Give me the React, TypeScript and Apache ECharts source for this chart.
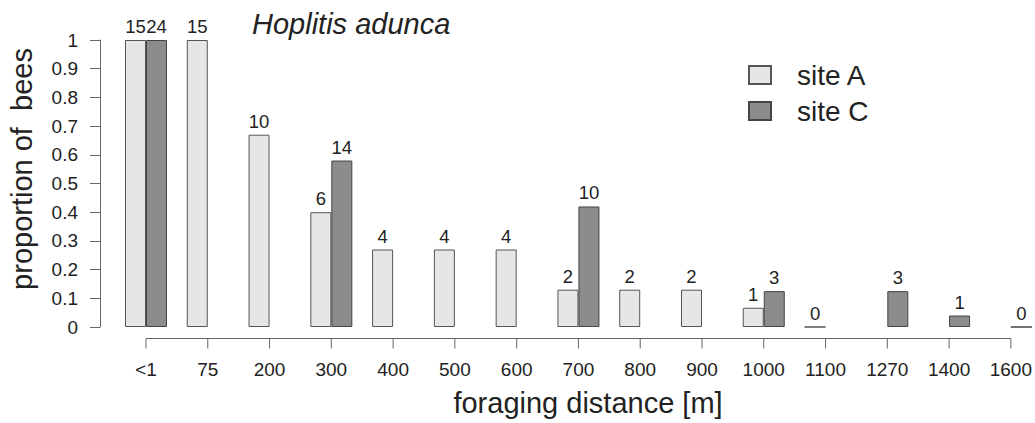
import React, { useEffect, useRef } from "react";
import * as echarts from "echarts";

const categories = ["<1", "75", "200", "300", "400", "500", "600", "700", "800", "900", "1000", "1100", "1270", "1400", "1600"];
const siteAValues = [1, 1, 0.67, 0.4, 0.27, 0.27, 0.27, 0.13, 0.13, 0.13, 0.067, 0, null, null, null];
const siteCValues = [1, null, null, 0.58, null, null, null, 0.42, null, null, 0.125, null, 0.125, 0.04, 0];
const siteACounts = [15, 15, 10, 6, 4, 4, 4, 2, 2, 2, 1, 0, null, null, null];
const siteCCounts = [24, null, null, 14, null, null, null, 10, null, null, 3, null, 3, 1, 0];

const FONT = "'Liberation Sans', Arial, Helvetica, sans-serif";
const TEXT = "#222";
const AXIS = "#666";

export default function App() {
  const ref = useRef<HTMLDivElement>(null);
  useEffect(() => {
    if (!ref.current) return;
    const chart = echarts.init(ref.current, null, { renderer: "svg" });
    const mk = (vals: (number | null)[], counts: (number | null)[]) =>
      vals.map((v, i) => (v === null ? "-" : { value: v, count: counts[i] }));
    const labelOpt = {
      show: true,
      position: "top",
      distance: 4,
      fontFamily: FONT,
      fontSize: 18.5,
      color: TEXT,
      formatter: (p: any) => (p.data && p.data.count !== null && p.data.count !== undefined ? String(p.data.count) : ""),
    };
    const lastIdx = categories.length - 1;
    chart.setOption({
      animation: false,
      backgroundColor: "#fff",
      textStyle: { fontFamily: FONT },
      title: {
        text: "Hoplitis adunca",
        left: 252,
        top: 9,
        padding: 0,
        textStyle: { fontFamily: FONT, fontSize: 29, fontStyle: "italic", fontWeight: "normal", color: TEXT, lineHeight: 29 },
      },
      legend: {
        orient: "vertical",
        left: 748,
        top: 60,
        padding: 0,
        itemWidth: 22,
        itemHeight: 18,
        itemGap: 6,
        icon: "rect",
        textStyle: { fontFamily: FONT, fontSize: 28, color: TEXT, lineHeight: 30, padding: [0, 0, 0, 21] },
        data: ["site A", "site C"],
      },
      grid: { left: 146, right: 23, top: 40, bottom: 96 },
      xAxis: {
        type: "category",
        data: categories,
        boundaryGap: false,
        offset: 11,
        axisLine: { show: false, onZero: false },
        axisTick: { show: false },
        axisLabel: { interval: 0, margin: 22, fontFamily: FONT, fontSize: 19, color: TEXT },
        splitLine: { show: false },
      },
      yAxis: {
        type: "value",
        min: 0,
        max: 1,
        interval: 0.1,
        offset: 46,
        axisLine: { show: true, lineStyle: { color: AXIS, width: 1 } },
        axisTick: { show: true, length: 10, lineStyle: { color: AXIS } },
        axisLabel: { margin: 22, fontFamily: FONT, fontSize: 19, color: TEXT },
        splitLine: { show: false },
      },
      graphic: [
        {
          type: "text",
          x: 22,
          y: 169,
          rotation: Math.PI / 2,
          style: { text: "proportion of  bees", fontFamily: FONT, fontSize: 29, fill: TEXT, align: "center", verticalAlign: "middle" },
        },
        {
          type: "text",
          x: 588,
          y: 403,
          style: { text: "foraging distance [m]", fontFamily: FONT, fontSize: 29, fill: TEXT, align: "center", verticalAlign: "middle" },
        },
      ],
      series: [
        {
          name: "site A",
          type: "bar",
          data: mk(siteAValues, siteACounts),
          barWidth: 21,
          barGap: "0%",
          clip: false,
          itemStyle: { color: "#e6e6e6", borderColor: "#555", borderWidth: 1 },
          label: labelOpt,
        },
        {
          name: "site C",
          type: "bar",
          data: mk(siteCValues, siteCCounts),
          barWidth: 21,
          barGap: "0%",
          clip: false,
          itemStyle: { color: "#8c8c8c", borderColor: "#444", borderWidth: 1 },
          label: labelOpt,
        },
        {
          name: "x axis",
          type: "custom",
          silent: true,
          clip: false,
          data: categories.map((_, i) => [i, 0]),
          encode: { x: 0, y: 1 },
          renderItem: (params: any, api: any) => {
            const p = api.coord([api.value(0), 0]);
            const y = Math.round(p[1]) + 11.5;
            const children: any[] = [
              {
                type: "line",
                shape: { x1: p[0], y1: y, x2: p[0], y2: y + 10 },
                style: { stroke: AXIS, lineWidth: 1 },
              },
            ];
            if (params.dataIndex === 0) {
              const q = api.coord([lastIdx, 0]);
              children.push({
                type: "line",
                shape: { x1: p[0], y1: y, x2: q[0], y2: y },
                style: { stroke: AXIS, lineWidth: 1 },
              });
            }
            return { type: "group", children };
          },
        },
      ],
    });
    return () => chart.dispose();
  }, []);
  return <div ref={ref} style={{ position: "fixed", left: 0, top: 0, width: 1035, height: 423 }} />;
}
